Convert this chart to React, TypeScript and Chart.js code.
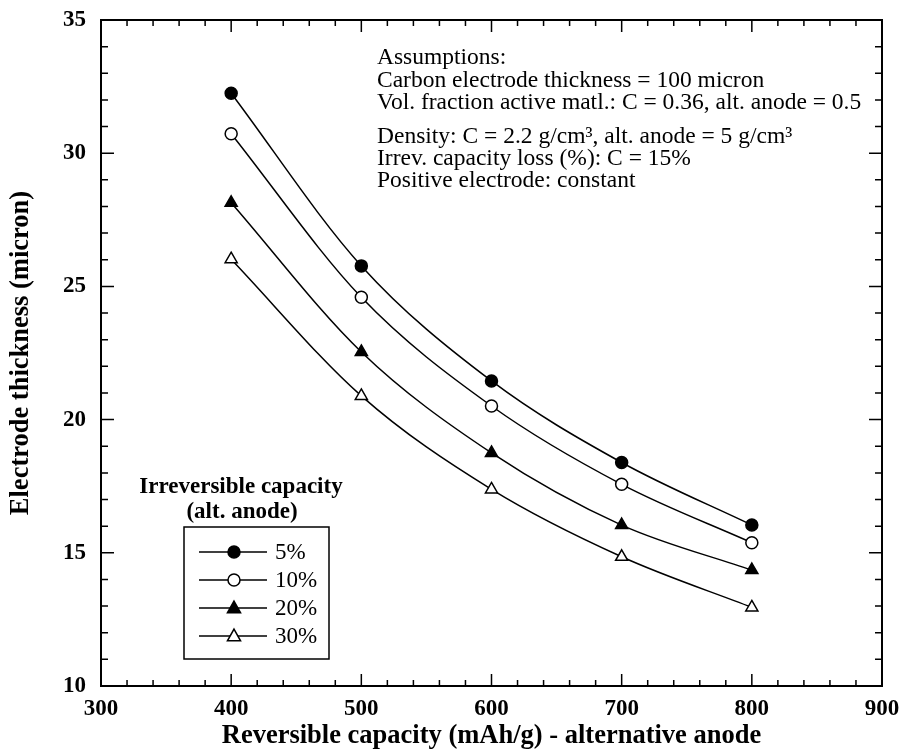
import React, { useEffect, useRef } from "react";
import { Chart, registerables } from "chart.js";

Chart.register(...registerables);

const capacity = [400, 500, 600, 700, 800];
const loss5 = [32.25, 25.77, 21.45, 18.39, 16.04];
const loss10 = [30.73, 24.59, 20.51, 17.57, 15.38];
const loss20 = [28.14, 22.54, 18.75, 16.04, 14.35];
const loss30 = [26.02, 20.89, 17.38, 14.85, 12.95];
const seriesLabels = ["5%", "10%", "20%", "30%"];
const xTicks = [300, 400, 500, 600, 700, 800, 900];
const yTicks = [10, 15, 20, 25, 30, 35];
const notes = [
  "Assumptions:",
  "Carbon electrode thickness = 100 micron",
  "Vol. fraction active matl.: C = 0.36, alt. anode = 0.5",
  "Density: C = 2.2 g/cm³, alt. anode = 5 g/cm³",
  "Irrev. capacity loss (%): C = 15%",
  "Positive electrode: constant",
];
const legendTitle = ["Irreversible capacity", "(alt. anode)"];

const SERIF = "'Liberation Serif', 'Times New Roman', serif";

const styles = [
  { pointStyle: "circle", fill: "#000" },
  { pointStyle: "circle", fill: "#fff" },
  { pointStyle: "triangle", fill: "#000" },
  { pointStyle: "triangle", fill: "#fff" },
];

function drawMarker(ctx: CanvasRenderingContext2D, style: string, fill: string, x: number, y: number, r: number) {
  ctx.save();
  ctx.beginPath();
  if (style === "circle") {
    ctx.arc(x, y, r, 0, Math.PI * 2);
  } else {
    const s = r * 1.15;
    ctx.moveTo(x, y - s);
    ctx.lineTo(x + s * 0.95, y + s * 0.7);
    ctx.lineTo(x - s * 0.95, y + s * 0.7);
    ctx.closePath();
  }
  ctx.fillStyle = fill;
  ctx.fill();
  ctx.lineWidth = 1.5;
  ctx.strokeStyle = "#000";
  ctx.stroke();
  ctx.restore();
}

const framePlugin = {
  id: "frameTicks",
  afterDraw(chart: any) {
    const ctx: CanvasRenderingContext2D = chart.ctx;
    const { left, right, top, bottom } = chart.chartArea;
    const xs = chart.scales.x;
    const ys = chart.scales.y;
    ctx.save();
    ctx.strokeStyle = "#000";
    ctx.lineWidth = 2;
    ctx.strokeRect(left, top, right - left, bottom - top);
    ctx.lineWidth = 1.5;
    ctx.beginPath();
    for (let v = xTicks[0]; v <= xTicks[xTicks.length - 1]; v += 20) {
      const px = xs.getPixelForValue(v);
      const len = v % 100 === 0 ? 12 : 6;
      ctx.moveTo(px, bottom);
      ctx.lineTo(px, bottom - len);
      ctx.moveTo(px, top);
      ctx.lineTo(px, top + len);
    }
    for (let v = yTicks[0]; v <= yTicks[yTicks.length - 1]; v += 1) {
      const py = ys.getPixelForValue(v);
      const len = v % 5 === 0 ? 13 : 7;
      ctx.moveTo(left, py);
      ctx.lineTo(left + len, py);
      ctx.moveTo(right, py);
      ctx.lineTo(right - len, py);
    }
    ctx.stroke();

    // annotation text
    ctx.fillStyle = "#000";
    ctx.font = `23.5px ${SERIF}`;
    ctx.textAlign = "left";
    ctx.textBaseline = "middle";
    const noteY = [58, 81, 103, 137, 159, 181];
    notes.forEach((t, i) => ctx.fillText(t, 377, noteY[i]));

    // legend
    ctx.font = `bold 23px ${SERIF}`;
    ctx.textAlign = "center";
    ctx.fillText(legendTitle[0], 241, 487);
    ctx.fillText(legendTitle[1], 242, 512);
    ctx.textAlign = "left";
    ctx.lineWidth = 1.5;
    ctx.strokeRect(184, 527, 145, 132);
    const rowY = [552, 580, 608, 636];
    ctx.font = `23px ${SERIF}`;
    seriesLabels.forEach((lab, i) => {
      ctx.beginPath();
      ctx.lineWidth = 1.5;
      ctx.moveTo(199, rowY[i]);
      ctx.lineTo(267, rowY[i]);
      ctx.stroke();
      drawMarker(ctx, styles[i].pointStyle, styles[i].fill, 234, rowY[i], 6);
      ctx.fillStyle = "#000";
      ctx.fillText(lab, 275, rowY[i] + 1);
    });
    ctx.restore();
  },
};

export default function App() {
  const ref = useRef<HTMLCanvasElement>(null);
  useEffect(() => {
    if (!ref.current) return;
    const all = [loss5, loss10, loss20, loss30];
    const chart = new Chart(ref.current, {
      type: "line",
      data: {
        datasets: all.map((arr, i) => ({
          label: seriesLabels[i],
          data: capacity.map((x, j) => ({ x, y: arr[j] })),
          borderColor: "#000",
          borderWidth: 1.5,
          pointStyle: styles[i].pointStyle as any,
          pointRadius: styles[i].pointStyle === "triangle" ? 7 : 6,
          pointBackgroundColor: styles[i].fill,
          pointBorderColor: "#000",
          pointBorderWidth: 1.5,
          tension: 0.4,
          cubicInterpolationMode: "monotone" as const,
          fill: false,
        })),
      },
      options: {
        responsive: false,
        animation: false,
        layout: { padding: { left: 0, top: 20, right: 17, bottom: 0 } },
        plugins: { legend: { display: false }, tooltip: { enabled: false } },
        scales: {
          x: {
            type: "linear",
            min: 300,
            max: 900,
            afterFit: (s: any) => {
              s.height = 66;
              s.paddingLeft = 0;
              s.paddingRight = 0;
            },
            afterBuildTicks: (s: any) => { s.ticks = xTicks.map((v) => ({ value: v })); },
            grid: { display: false, drawTicks: false },
            border: { display: false },
            ticks: { color: "#000", padding: 9, font: { family: SERIF, size: 23, weight: "bold" } },
            title: {
              display: true,
              text: "Reversible capacity (mAh/g) - alternative anode",
              color: "#000",
              font: { family: SERIF, size: 26.5, weight: "bold" },
              padding: { top: 0, bottom: 0 },
            },
          },
          y: {
            type: "linear",
            min: 10,
            max: 35,
            afterFit: (s: any) => {
              s.width = 101;
              s.paddingTop = 0;
              s.paddingBottom = 0;
            },
            afterBuildTicks: (s: any) => { s.ticks = yTicks.map((v) => ({ value: v })); },
            grid: { display: false, drawTicks: false },
            border: { display: false },
            ticks: { color: "#000", padding: 15, font: { family: SERIF, size: 23, weight: "bold" } },
            title: {
              display: true,
              text: "Electrode thickness (micron)",
              color: "#000",
              font: { family: SERIF, size: 26.5, weight: "bold" },
              padding: { top: 5, bottom: 0 },
            },
          },
        },
      },
      plugins: [framePlugin],
    });
    return () => chart.destroy();
  }, []);
  return (
    <div style={{ position: "absolute", left: 0, top: 0, width: 899, height: 752, background: "#fff" }}>
      <canvas ref={ref} width={899} height={752} style={{ display: "block" }} />
    </div>
  );
}
